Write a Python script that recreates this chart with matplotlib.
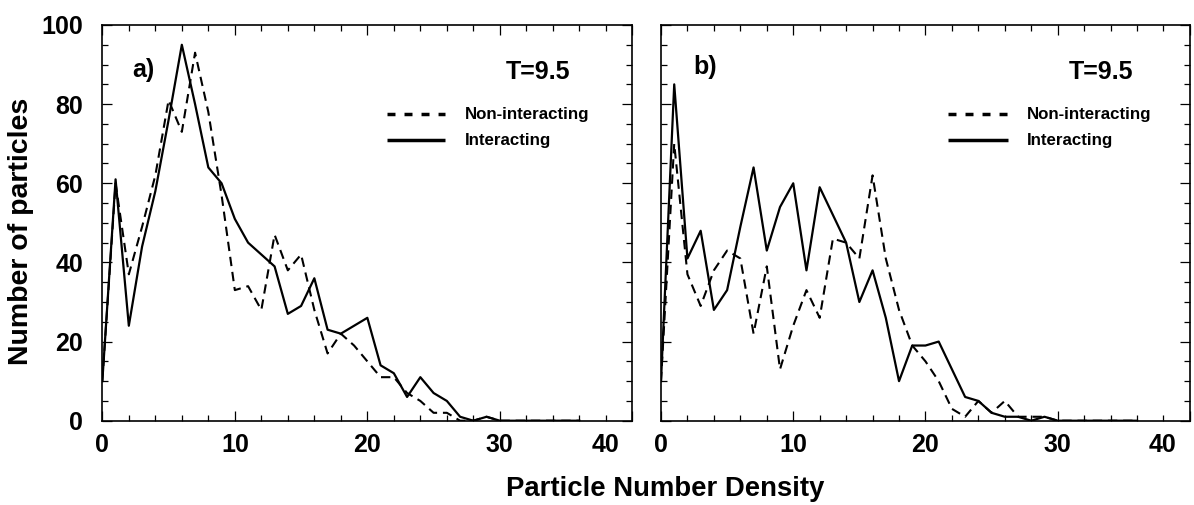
import matplotlib
matplotlib.use('Agg')
import matplotlib.pyplot as plt
import matplotlib.transforms as mtransforms
from matplotlib import font_manager as fm
from matplotlib.ticker import MultipleLocator, FixedLocator

# ---------------- data ----------------
density = list(range(37))

a_non_interacting = [10, 60, 37, 49, 62, 81, 73, 93, 78, 57, 33, 34, 28, 47, 38, 42, 28, 17,
                     22, 19, 15, 11, 11, 7, 5, 2, 2, 0, 0, 1, 0, 0, 0, 0, 0, 0, 0]
a_interacting = [10, 61, 24, 44, 58, 76, 95, 80, 64, 60, 51, 45, 42, 39, 27, 29, 36, 23,
                 22, 24, 26, 14, 12, 6, 11, 7, 5, 1, 0, 1, 0, 0, 0, 0, 0, 0, 0]

b_non_interacting = [10, 70, 37, 29, 38, 43, 41, 22, 39, 13, 24, 33, 26, 46, 45, 41, 62, 41,
                     28, 19, 15, 10, 3, 1, 5, 2, 5, 1, 1, 1, 0, 0, 0, 0, 0, 0, 0]
b_interacting = [10, 85, 41, 48, 28, 33, 49, 64, 43, 54, 60, 38, 59, 52, 45, 30, 38, 26,
                 10, 19, 19, 20, 13, 6, 5, 2, 1, 1, 0, 1, 0, 0, 0, 0, 0, 0, 0]

x_ticks = [0, 10, 20, 30, 40]
y_ticks = [0, 20, 40, 60, 80, 100]
panel_labels = ['a)', 'b)']
temp_label = 'T=9.5'
legend_labels = ['Non-interacting', 'Interacting']
x_title = 'Particle Number Density'
y_title = 'Number of particles'

# ---------------- fonts ----------------
names = {f.name for f in fm.fontManager.ttflist}
NARROW = 'Liberation Sans Narrow' in names
hfam = ['Liberation Sans Narrow', 'DejaVu Sans'] if NARROW else ['Liberation Sans', 'DejaVu Sans']
scale = 1.0 if NARROW else 0.9
tick_fs = 20 * scale
plab_fs = 20 * scale
temp_fs = 20 * scale
leg_fs = 13.5 * scale
xt_fs = 22 * scale

fig = plt.figure(figsize=(11.94, 5.05), dpi=100)
axA = fig.add_axes([0.0857, 0.1669, 0.4439, 0.7836])
axB = fig.add_axes([0.5536, 0.1669, 0.4430, 0.7836])

panels = [
    (axA, a_non_interacting, a_interacting, panel_labels[0], (0.077, 0.886), (0.822, 0.881),
     (0.537, 0.646), 0.684, True),
    (axB, b_non_interacting, b_interacting, panel_labels[1], (0.083, 0.894), (0.831, 0.881),
     (0.543, 0.656), 0.692, False),
]

for ax, nonint, inter, plab, plab_pos, t_pos, leg_x, leg_tx, show_y in panels:
    ax.plot(density, nonint, color='black', lw=1.5, linestyle=(0, (4.5, 2.8)))
    ax.plot(density, inter, color='black', lw=1.6, linestyle='-')
    ax.set_xlim(0, 40)
    ax.set_ylim(0, 100)
    ax.xaxis.set_major_locator(FixedLocator(x_ticks))
    ax.xaxis.set_minor_locator(MultipleLocator(2))
    ax.yaxis.set_major_locator(FixedLocator(y_ticks))
    ax.yaxis.set_minor_locator(MultipleLocator(5))
    ax.tick_params(which='both', direction='in', top=True, right=True, width=0.9, color='black')
    ax.tick_params(which='major', length=7)
    ax.tick_params(which='minor', length=4.5)
    ax.tick_params(axis='x', which='major', pad=9, labelsize=tick_fs)
    ax.tick_params(axis='y', which='major', pad=14, labelsize=tick_fs, labelleft=show_y)
    for lab in ax.get_xticklabels() + ax.get_yticklabels():
        lab.set_fontfamily(hfam)
        lab.set_fontweight('bold')
    for sp in ax.spines.values():
        sp.set_linewidth(1.2)
    # shift the "40" label left as in the reference
    last = ax.xaxis.get_major_ticks()[-1].label1
    last.set_transform(last.get_transform() +
                       mtransforms.ScaledTranslation(-27 / 100, 0, fig.dpi_scale_trans))

    ax.text(plab_pos[0], plab_pos[1], plab, transform=ax.transAxes, ha='center', va='center',
            fontsize=plab_fs, fontweight='bold', family=hfam)
    ax.text(t_pos[0], t_pos[1], temp_label, transform=ax.transAxes, ha='center', va='center',
            fontsize=temp_fs, fontweight='bold', family=hfam)
    # legend (manual)
    ax.plot(leg_x, [0.775, 0.775], transform=ax.transAxes, color='black', lw=2.5,
            linestyle=(0, (2.3, 2.6)), solid_capstyle='butt', dash_capstyle='butt')
    ax.plot(leg_x, [0.709, 0.709], transform=ax.transAxes, color='black', lw=2.5,
            solid_capstyle='butt')
    ax.text(leg_tx, 0.775, legend_labels[0], transform=ax.transAxes, ha='left', va='center',
            fontsize=leg_fs, fontweight='bold', family=hfam)
    ax.text(leg_tx, 0.709, legend_labels[1], transform=ax.transAxes, ha='left', va='center',
            fontsize=leg_fs, fontweight='bold', family=hfam)

fig.text(0.557, 0.031, x_title, ha='center', va='center', fontsize=xt_fs,
         fontweight='bold', family=hfam)
fig.text(0.0176, 0.5426, y_title, ha='center', va='center', rotation=90, fontsize=20.5,
         fontweight='bold', family=['Liberation Sans', 'DejaVu Sans'])

fig.savefig('out.png', dpi=100)
